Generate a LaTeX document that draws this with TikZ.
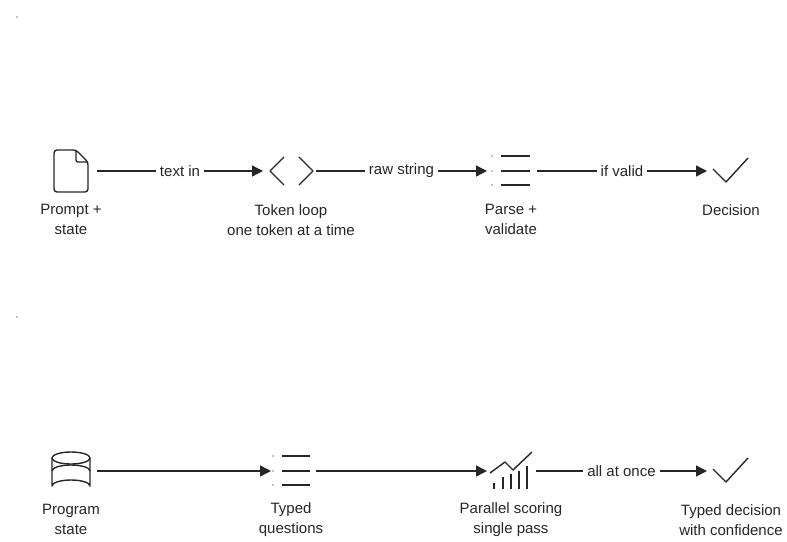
\documentclass[tikz,border=0pt]{standalone}
\usepackage{fontspec}
\setmainfont{Liberation Sans}
\usetikzlibrary{arrows.meta}
\begin{document}
\begin{tikzpicture}[x=1pt,y=-1pt,
  ic/.style={line width=1.4pt,draw=black!85,line join=round},
  conn/.style={line width=1.4pt,draw=black!85,-{Triangle[length=11pt,width=11pt]}},
  plain/.style={line width=1.4pt,draw=black!85},
  lbl/.style={font=\fontsize{15}{20}\selectfont,text=black!85,align=center,inner sep=0pt},
  elbl/.style={font=\fontsize{15}{20}\selectfont,text=black!85,fill=white,inner sep=4pt}]
\useasboundingbox (0,0) rectangle (787,541);
\fill (17,17) circle (0.6);
\fill (17,317) circle (0.6);
% Row 1
\coordinate (a1) at (71,171);
\draw[ic,rounded corners=3pt] (54,150) -- (76,150) -- (88,162) -- (88,192) -- (54,192) -- cycle;
\draw[ic,rounded corners=2pt] (76,150) -- (76,162) -- (88,162);
\node[lbl] (la1) at (71,219.5) {Prompt +\\state};
\coordinate (b1) at (291,171);
\draw[ic] (284,157) -- (270,171) -- (284,185);
\draw[ic] (299,157) -- (313,171) -- (299,185);
\node[lbl] (lb1) at (291,220) {Token loop\\one token at a time};
\coordinate (c1) at (512,171);
\foreach \yy in {156,171,185}{\fill (492,\yy) circle (0.6); \draw[plain] (501,\yy) -- (530,\yy);}
\node[lbl] (lc1) at (511,219.5) {Parse +\\validate};
\coordinate (d1) at (731,171);
\draw[ic] (713,169) -- (726,182) -- (748,158);
\node[lbl] (ld1) at (731,210) {Decision};
\coordinate (s1) at (97,171); \coordinate (e1) at (263,171);
\draw[conn] (s1) -- node[elbl]{text in} (e1);
\coordinate (s2) at (316,171); \coordinate (e2) at (487,171);
\draw[conn] (s2) -- node[elbl]{raw string} (e2);
\coordinate (s3) at (537,171); \coordinate (e3) at (707,171);
\draw[conn] (s3) -- node[elbl]{if valid} (e3);
% Row 2
\draw[ic] (52,458) -- (52,486) arc[start angle=180,end angle=360,x radius=19,y radius=6] -- (90,458);
\draw[ic] (71,458) ellipse[x radius=19,y radius=6];
\draw[ic] (52,471) arc[start angle=180,end angle=360,x radius=19,y radius=6];
\node[lbl] (la2) at (71,519.5) {Program\\state};
\foreach \yy in {456,471,485}{\fill (273,\yy) circle (0.6); \draw[plain] (282,\yy) -- (310,\yy);}
\node[lbl] (lb2) at (291,519.5) {Typed\\questions};
\draw[ic] (490,473) -- (505,462) -- (513,470) -- (532,452);
\foreach \xx/\yt in {494/483,503/477,511/474,519/471}{\draw[plain] (\xx,\yt) -- (\xx,489);}
\draw[plain] (527,466) -- (527,489);
\node[lbl] (lc2) at (511,520) {Parallel scoring\\single pass};
\draw[ic] (713,469) -- (726,482) -- (748,458);
\node[lbl] (ld2) at (731,520) {Typed decision\\with confidence};
\coordinate (t1) at (97,471); \coordinate (f1) at (271,471);
\draw[conn] (t1) -- (f1);
\coordinate (t2) at (316,471); \coordinate (f2) at (487,471);
\draw[conn] (t2) -- (f2);
\coordinate (t3) at (536,471); \coordinate (f3) at (707,471);
\draw[conn] (t3) -- node[elbl]{all at once} (f3);
\end{tikzpicture}
\end{document}
